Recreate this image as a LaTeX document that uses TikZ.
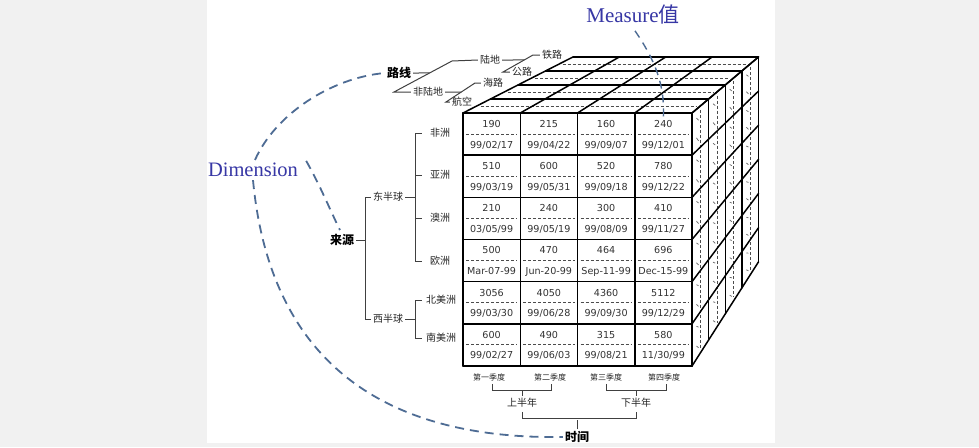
\documentclass[tikz,border=0pt]{standalone}
\usepackage{fontspec}
\setmainfont{DejaVu Sans}
\newfontfamily\cjk{Noto Sans CJK SC}
\newfontfamily\tnr{Liberation Serif}
\usetikzlibrary{calc}
\definecolor{curvecol}{RGB}{78,108,148}
\definecolor{labblue}{RGB}{55,55,165}
\definecolor{bggray}{RGB}{241,241,241}
\newcommand\cubecell[4]{%
  \node[num] (v#1#2) at ({463+57.25*(#2-0.5)},{113+42.1667*(#1-1)+11}) {#3};
  \node[num] (d#1#2) at ({463+57.25*(#2-0.5)},{113+42.1667*(#1-1)+32}) {#4};
}
\begin{document}
\begin{tikzpicture}[x=1pt,y=-1pt,
  edge/.style={line width=1.5pt,black,line join=round,line cap=round},
  dsh/.style={line width=0.8pt,black!70,dash pattern=on 3pt off 2pt},
  mk/.style={line width=0.7pt,black!60},
  conn/.style={draw=curvecol,line width=1.8pt,dash pattern=on 9pt off 6pt},
  tree/.style={line width=1pt,black!75},
  num/.style={font=\fontsize{9.6}{11}\selectfont,text=black!80,inner sep=0pt},
  lab/.style={font=\cjk\fontsize{10}{12}\selectfont,text=black!85,inner sep=2pt},
  small/.style={font=\cjk\fontsize{8}{10}\selectfont,text=black!85,inner sep=1pt},
  bl/.style={font=\cjk\bfseries\fontsize{12}{14}\selectfont,text=black,inner sep=2pt},
  big/.style={font=\tnr\fontsize{20.5}{24}\selectfont,text=labblue,inner sep=0pt}]
\useasboundingbox (0,0) rectangle (979,447);
\fill[bggray] (0,0) rectangle (979,447);
\fill[white] (207,0) rectangle (775,443);
\coordinate (V) at (1042,-182);
% ---------- top and right faces ----------
\foreach \k in {0,...,3}{
  \pgfmathsetmacro\s{1-0.0475*\k-0.02375}
  \pgfmathsetmacro\sa{\s+0.011}
  \pgfmathsetmacro\sb{\s+0.005}
  \draw[dsh] ($(V)!\s!(467,113)$) -- ($(V)!\s!(688,113)$);
  \draw[dsh] ($(V)!\s!(692,117)$) -- ($(V)!\s!(692,362)$);
  \foreach \r in {0,...,5}{
    \draw[mk] ($(V)!\sa!(692,{113+42.1667*\r+9})$) -- ($(V)!\sb!(692,{113+42.1667*\r+13})$);
    \draw[mk] ($(V)!\sa!(692,{113+42.1667*\r+29})$) -- ($(V)!\sb!(692,{113+42.1667*\r+34})$);
  }
}
\foreach \x in {463,520.25,577.5,634.75,692}
  \draw[edge] (\x,113) -- ($(V)!0.81!(\x,113)$);
\foreach \r in {0,...,6}
  \draw[edge] (692,{113+42.1667*\r}) -- ($(V)!0.81!(692,{113+42.1667*\r})$);
\foreach \k in {0,...,4}{
  \pgfmathsetmacro\s{1-0.0475*\k}
  \draw[edge] ($(V)!\s!(463,113)$) -- ($(V)!\s!(692,113)$) -- ($(V)!\s!(692,366)$);
}
% ---------- front face ----------
\foreach \r in {1,...,6}{
  \foreach \c in {1,...,4}{
    \draw[dsh] ({463+57.25*(\c-1)+3},{113+42.1667*(\r-1)+21}) -- ({463+57.25*\c-3},{113+42.1667*(\r-1)+21});
  }
}
\foreach \r in {0,...,6}
  \draw[edge] (463,{113+42.1667*\r}) -- (692,{113+42.1667*\r});
\foreach \c in {0,...,4}
  \draw[edge] ({463+57.25*\c},113) -- ({463+57.25*\c},366);
\cubecell{1}{1}{190}{99/02/17}
\cubecell{1}{2}{215}{99/04/22}
\cubecell{1}{3}{160}{99/09/07}
\cubecell{1}{4}{240}{99/12/01}
\cubecell{2}{1}{510}{99/03/19}
\cubecell{2}{2}{600}{99/05/31}
\cubecell{2}{3}{520}{99/09/18}
\cubecell{2}{4}{780}{99/12/22}
\cubecell{3}{1}{210}{03/05/99}
\cubecell{3}{2}{240}{99/05/19}
\cubecell{3}{3}{300}{99/08/09}
\cubecell{3}{4}{410}{99/11/27}
\cubecell{4}{1}{500}{Mar-07-99}
\cubecell{4}{2}{470}{Jun-20-99}
\cubecell{4}{3}{464}{Sep-11-99}
\cubecell{4}{4}{696}{Dec-15-99}
\cubecell{5}{1}{3056}{99/03/30}
\cubecell{5}{2}{4050}{99/06/28}
\cubecell{5}{3}{4360}{99/09/30}
\cubecell{5}{4}{5112}{99/12/29}
\cubecell{6}{1}{600}{99/02/27}
\cubecell{6}{2}{490}{99/06/03}
\cubecell{6}{3}{315}{99/08/21}
\cubecell{6}{4}{580}{11/30/99}
% ---------- route tree ----------
\node[bl] (lx) at (399,73) {路线};
\node[lab] (ld) at (490,60) {陆地};
\node[lab] (fld) at (428,92) {非陆地};
\node[lab] (tl) at (552,55) {铁路};
\node[lab] (gl) at (522,72) {公路};
\node[lab] (hl) at (493,83) {海路};
\node[lab] (hk) at (462,102) {航空};
\coordinate (a1) at (452,61); \coordinate (a2) at (394,92);
\coordinate (b1) at (533,55); \coordinate (b2) at (503,72);
\coordinate (c1) at (475,83); \coordinate (c2) at (446,102);
\draw[tree] (lx.east) -- ($(a2)!0.613!(a1)$);
\draw[tree] (ld.west) -- (a1) -- (a2) -- (fld.west);
\draw[tree] (ld.east) -- ($(b2)!0.706!(b1)$);
\draw[tree] (tl.west) -- (b1) -- (b2) -- (gl.west);
\draw[tree] (fld.east) -- ($(c2)!0.526!(c1)$);
\draw[tree] (hl.west) -- (c1) -- (c2) -- (hk.west);
% ---------- source tree ----------
\node[bl] (ly) at (342,240) {来源};
\node[lab] (dbq) at (388,197) {东半球};
\node[lab] (xbq) at (388,319) {西半球};
\node[lab] (fz) at (440,133) {非洲};
\node[lab] (yz) at (440,175) {亚洲};
\node[lab] (az) at (440,218) {澳洲};
\node[lab] (oz) at (440,261) {欧洲};
\node[lab] (bmz) at (441,300) {北美洲};
\node[lab] (nmz) at (441,338) {南美洲};
\coordinate (s1) at (365,240);
\coordinate (s2) at (415,240);
\draw[tree] (ly.east) -- (s1);
\draw[tree] (dbq.west) -- (dbq.west -| s1) -- (xbq.west -| s1) -- (xbq.west);
\draw[tree] (dbq.east) -- (dbq.east -| s2);
\draw[tree] ($(fz.west)+(-6,0)$) -- (fz.west -| s2) -- (oz.west -| s2) -- ($(oz.west)+(-6,0)$);
\draw[tree] ($(yz.west)+(-6,0)$) -- (yz.west -| s2);
\draw[tree] ($(az.west)+(-6,0)$) -- (az.west -| s2);
\draw[tree] (xbq.east) -- (xbq.east -| s2);
\draw[tree] ($(bmz.west)+(-2,0)$) -- (bmz.west -| s2) -- (nmz.west -| s2) -- ($(nmz.west)+(-2,0)$);
% ---------- time tree ----------
\node[small] (q1) at (489,377) {第一季度};
\node[small] (q2) at (550,377) {第二季度};
\node[small] (q3) at (606,377) {第三季度};
\node[small] (q4) at (664,377) {第四季度};
\node[lab] (sbn) at (522,403) {上半年};
\node[lab] (xbn) at (636,403) {下半年};
\node[bl] (sj) at (577,437) {时间};
\draw[tree] ($(q1.south)+(3,2)$) -- ++(0,7) -| ($(q2.south)+(1,2)$);
\draw[tree] ($(q3.south)+(0,2)$) -- ++(0,7) -| ($(q4.south)+(2,2)$);
\draw[tree] (sbn.north) -- ++(0,-6);
\draw[tree] (xbn.north) -- ++(0,-6);
\draw[tree] ($(sbn.south)+(0,2)$) -- ++(0,7) -| ($(xbn.south)+(0,2)$);
\draw[tree] (sj.north) -- ++(0,-9);
% ---------- labels and dashed curves ----------
\node[big] (dim) at (253,170) {Dimension};
\node[big,font=\tnr\fontsize{21}{24}\selectfont] (ms) at (633,15) {Measure{\cjk 值}};
\draw[conn] ($(dim.north)+(2,-3)$) .. controls (275,115) and (330,78) .. (lx.west);
\draw[conn] ($(dim.north east)+(8,-2)$) .. controls (320,185) and (330,210) .. ($(ly.north)+(-2,-2)$);
\draw[conn] ($(dim.south)+(0,3)$) .. controls (268,340) and (360,440) .. (sj.west);
\draw[conn,line width=1.4pt,dash pattern=on 8pt off 6pt] ($(ms.south)+(2,6)$) .. controls (655,60) and (665,85) .. ($(v14.north)+(0,-3)$);
\end{tikzpicture}
\end{document}
